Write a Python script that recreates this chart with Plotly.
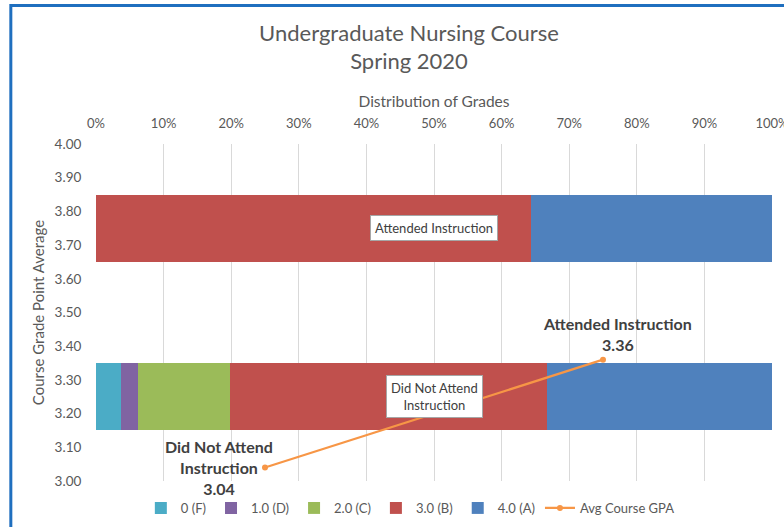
import plotly.graph_objects as go

# ---- data ----
groups = ["Did Not Attend Instruction", "Attended Instruction"]
group_gpa_pos = [3.25, 3.75]          # y position of each distribution bar
grade_names = ["0 (F)", "1.0 (D)", "2.0 (C)", "3.0 (B)", "4.0 (A)"]
dist_not_attend = [3.7, 2.5, 13.6, 46.9, 33.3]
dist_attend = [0.0, 0.0, 0.0, 64.3, 35.7]
avg_gpa = [3.04, 3.36]
x_ticks = [0, 10, 20, 30, 40, 50, 60, 70, 80, 90, 100]

colors = ["#4BACC6", "#8064A2", "#9BBB59", "#C0504D", "#4F81BD"]
line_color = "#F79646"
FONT = "Lato"
TXT = "#595959"

fig = go.Figure()
for i, name in enumerate(grade_names):
    fig.add_trace(go.Bar(
        x=[dist_not_attend[i], dist_attend[i]],
        y=group_gpa_pos,
        orientation="h",
        width=0.2,
        name=name,
        marker=dict(color=colors[i], line=dict(width=0)),
        xaxis="x", yaxis="y",
        hoverinfo="skip",
    ))

fig.add_trace(go.Scatter(
    x=groups, y=avg_gpa,
    mode="lines+markers",
    name="Avg Course GPA",
    line=dict(color=line_color, width=2.25),
    marker=dict(color=line_color, size=6),
    xaxis="x2", yaxis="y",
))

annotations = [
    dict(x=50, y=group_gpa_pos[1], xref="x", yref="y",
         text="Attended Instruction", showarrow=False,
         bgcolor="white", bordercolor="#A6A6A6", borderwidth=1, borderpad=4,
         font=dict(family=FONT, size=13, color="#404040")),
    dict(x=50, y=group_gpa_pos[0], xref="x", yref="y",
         text="Did Not Attend<br>Instruction", showarrow=False,
         bgcolor="white", bordercolor="#A6A6A6", borderwidth=1, borderpad=4,
         font=dict(family=FONT, size=13, color="#404040")),
    dict(x=groups[0], y=avg_gpa[0], xref="x2", yref="y",
         text="<b>Did Not Attend<br>Instruction<br>%.2f</b>" % avg_gpa[0],
         showarrow=False, xanchor="center", yanchor="middle", xshift=-46,
         align="center",
         font=dict(family=FONT, size=16, color="#404040")),
    dict(x=groups[1], y=avg_gpa[1], xref="x2", yref="y",
         text="<b>Attended Instruction<br>%.2f</b>" % avg_gpa[1],
         showarrow=False, xanchor="center", yanchor="bottom", xshift=14, yshift=4,
         align="center",
         font=dict(family=FONT, size=16, color="#404040")),
]

fig.update_layout(
    width=784, height=527,
    margin=dict(l=96, r=12, t=144, b=46, autoexpand=False),
    paper_bgcolor="white", plot_bgcolor="white",
    barmode="stack",
    font=dict(family=FONT, size=13, color=TXT),
    title=dict(text="Undergraduate Nursing Course<br>Spring 2020",
               x=0.463, xref="paper", xanchor="center",
               y=0.923, yref="container", yanchor="top",
               font=dict(family=FONT, size=22, color=TXT)),
    xaxis=dict(side="top", range=[0, 100], tickvals=x_ticks,
               ticktext=["%d%%" % v for v in x_ticks],
               showgrid=True, gridcolor="#D9D9D9", gridwidth=1,
               zeroline=False, showline=False,
               ticks="outside", ticklen=10, tickcolor="rgba(0,0,0,0)",
               automargin=False, ticklabeloverflow="allow",
               tickfont=dict(family=FONT, size=13, color=TXT),
               title=dict(text="Distribution of Grades", standoff=3,
                          font=dict(family=FONT, size=15.5, color=TXT)),
               fixedrange=True),
    xaxis2=dict(overlaying="x", type="category", categoryorder="array",
                categoryarray=groups, range=[-0.5, 1.5], visible=False),
    yaxis=dict(range=[3.0, 4.0], dtick=0.1, tickformat=".2f",
               showgrid=False, zeroline=False, showline=False,
               ticks="outside", ticklen=11, tickcolor="rgba(0,0,0,0)",
               automargin=False,
               tickfont=dict(family=FONT, size=13.5, color=TXT),
               title=dict(text="Course Grade Point Average", standoff=6,
                          font=dict(family=FONT, size=15, color=TXT))),
    legend=dict(orientation="h", x=0.465, xanchor="center", y=-0.08,
                yanchor="middle", font=dict(family=FONT, size=13, color=TXT),
                traceorder="normal", itemwidth=30),
    showlegend=True,
    annotations=annotations,
    shapes=[dict(type="rect", xref="paper", yref="paper",
                 x0=-0.126, x1=1.2, y0=-0.3, y1=1.411,
                 line=dict(color="#1F6FBF", width=3), fillcolor="rgba(0,0,0,0)",
                 layer="above")],
)

fig.write_html("out.html", config={"displayModeBar": False},
               post_script="document.body.style.margin='0px';")
